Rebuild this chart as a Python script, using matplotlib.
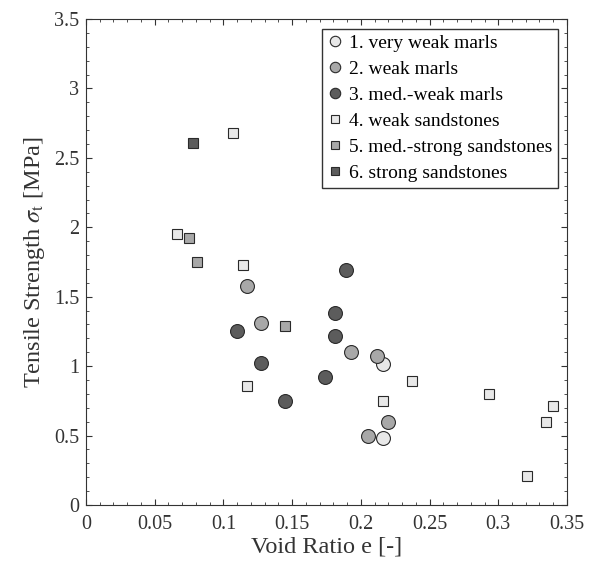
import matplotlib
matplotlib.use('Agg')
import matplotlib.pyplot as plt
from matplotlib.ticker import MultipleLocator, FormatStrFormatter

plt.rcParams['font.family'] = ['Liberation Serif', 'DejaVu Serif']
plt.rcParams['mathtext.fontset'] = 'stix'

# void ratio e [-] and tensile strength [MPa] per group
labels = ['1. very weak marls', '2. weak marls', '3. med.-weak marls',
          '4. weak sandstones', '5. med.-strong sandstones', '6. strong sandstones']

e1 = [0.216, 0.216]
s1 = [1.015, 0.483]

e2 = [0.117, 0.127, 0.193, 0.212, 0.220, 0.205]
s2 = [1.58, 1.31, 1.10, 1.07, 0.60, 0.50]

e3 = [0.110, 0.127, 0.145, 0.174, 0.181, 0.181, 0.189]
s3 = [1.25, 1.02, 0.75, 0.92, 1.38, 1.22, 1.69]

e4 = [0.107, 0.066, 0.114, 0.117, 0.216, 0.237, 0.293, 0.335, 0.340, 0.321]
s4 = [2.68, 1.95, 1.73, 0.86, 0.75, 0.89, 0.80, 0.60, 0.71, 0.21]

e5 = [0.075, 0.081, 0.145]
s5 = [1.92, 1.75, 1.29]

e6 = [0.078]
s6 = [2.61]

light, mid, dark = '#e8e8e8', '#a8a8a8', '#5c5c5c'
edge = '#2a2a2a'

fig = plt.figure(figsize=(5.96, 5.62), dpi=100)
ax = fig.add_axes([0.1443, 0.1014, 0.807, 0.8648])

ax.plot(e1, s1, 'o', ms=10, mfc=light, mec=edge, mew=0.8, label=labels[0])
ax.plot(e2, s2, 'o', ms=10, mfc=mid, mec=edge, mew=0.8, label=labels[1])
ax.plot(e3, s3, 'o', ms=10, mfc=dark, mec=edge, mew=0.8, label=labels[2])
ax.plot(e4, s4, 's', ms=7, mfc=light, mec=edge, mew=0.8, label=labels[3])
ax.plot(e5, s5, 's', ms=7, mfc=mid, mec=edge, mew=0.8, label=labels[4])
ax.plot(e6, s6, 's', ms=7, mfc=dark, mec=edge, mew=0.8, label=labels[5])

ax.set_xlim(0, 0.35)
ax.set_ylim(0, 3.5)
ax.xaxis.set_major_locator(MultipleLocator(0.05))
ax.xaxis.set_minor_locator(MultipleLocator(0.01))
ax.yaxis.set_major_locator(MultipleLocator(0.5))
ax.yaxis.set_minor_locator(MultipleLocator(0.1))
ax.xaxis.set_major_formatter(FormatStrFormatter('%g'))
ax.yaxis.set_major_formatter(FormatStrFormatter('%g'))
ax.tick_params(which='both', direction='in', top=True, right=True, labelsize=14.5,
               color='#333333', labelcolor='#333333', pad=5)
ax.tick_params(axis='x', which='major', pad=7)
ax.tick_params(which='major', length=4)
ax.tick_params(which='minor', length=2.2)
for sp in ax.spines.values():
    sp.set_color('#333333')

ax.set_xlabel('Void Ratio e [-]', fontsize=17.5, color='#333333', labelpad=2)
ax.set_ylabel(r'Tensile Strength $\sigma_{\rm t}$ [MPa]', fontsize=17.5, color='#333333', labelpad=5)

leg = ax.legend(loc='upper right', bbox_to_anchor=(0.982, 0.98), borderaxespad=0,
                fontsize=14, fancybox=False, framealpha=1, edgecolor='#333333',
                handlelength=0.8, handletextpad=0.3, borderpad=0.3, labelspacing=0.43,
                markerscale=0.75)
leg.get_frame().set_linewidth(1.0)

fig.savefig('out.png', dpi=100)
